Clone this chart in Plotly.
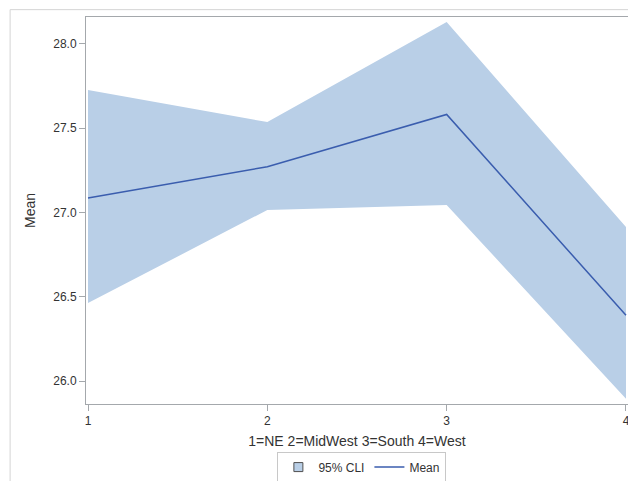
import plotly.graph_objects as go

region = [1, 2, 3, 4]
mean = [27.086, 27.272, 27.582, 26.39]
upper = [27.727, 27.537, 28.13, 26.914]
lower = [26.463, 27.015, 27.045, 25.895]

fill_color = "#b9cfe7"
line_color = "#3a5dae"
axis_color = "#a4a8ac"
text_color = "#333333"

fig = go.Figure()

fig.add_trace(go.Scatter(x=region, y=lower, mode="lines", line=dict(width=0),
                         showlegend=False, hoverinfo="skip"))
fig.add_trace(go.Scatter(x=region, y=upper, mode="lines", line=dict(width=0),
                         fill="tonexty", fillcolor=fill_color, showlegend=False))
# legend entry for the band: small bordered square like the original
fig.add_trace(go.Scatter(x=[None], y=[None], mode="markers", name="95% CLI",
                         marker=dict(symbol="square", size=9, color=fill_color,
                                     line=dict(color="#505050", width=1))))
fig.add_trace(go.Scatter(x=region, y=mean, mode="lines",
                         line=dict(color=line_color, width=1.5), name="Mean"))

# outer frame of the original graph
fig.add_shape(type="rect", xref="paper", yref="paper",
              x0=-0.14, x1=1.2, y0=-0.4, y1=1.019,
              line=dict(color="#d4d4d4", width=1))

fig.update_layout(
    width=620, height=473,
    margin=dict(l=78, r=0, t=9, b=77, autoexpand=False),
    paper_bgcolor="white", plot_bgcolor="white",
    font=dict(family="Liberation Sans, Arial, sans-serif", size=12, color=text_color),
    legend=dict(orientation="h", x=0.509, xanchor="center", y=-0.163, yanchor="middle",
                traceorder="normal", bordercolor="#c8c8c8", borderwidth=1,
                font=dict(size=12, color=text_color)),
)
fig.update_xaxes(range=[0.9888, 4.0112], tickvals=region, ticks="outside", ticklen=6,
                 tickcolor=axis_color, showline=True, linecolor=axis_color, mirror=True,
                 showgrid=False, zeroline=False, automargin=False,
                 ticklabeloverflow="allow",
                 title=dict(text="1=NE 2=MidWest 3=South 4=West", standoff=8,
                            font=dict(color=text_color)),
                 tickfont=dict(size=12, color=text_color))
fig.update_yaxes(range=[25.864, 28.16], tickvals=[26.0, 26.5, 27.0, 27.5, 28.0],
                 tickformat=".1f", ticks="outside", ticklen=6, tickcolor=axis_color,
                 showline=True, linecolor=axis_color, mirror=True,
                 showgrid=False, zeroline=False, automargin=False,
                 title=dict(text="Mean", standoff=14, font=dict(color=text_color)),
                 tickfont=dict(size=12, color=text_color))

fig.write_html("out.html")
